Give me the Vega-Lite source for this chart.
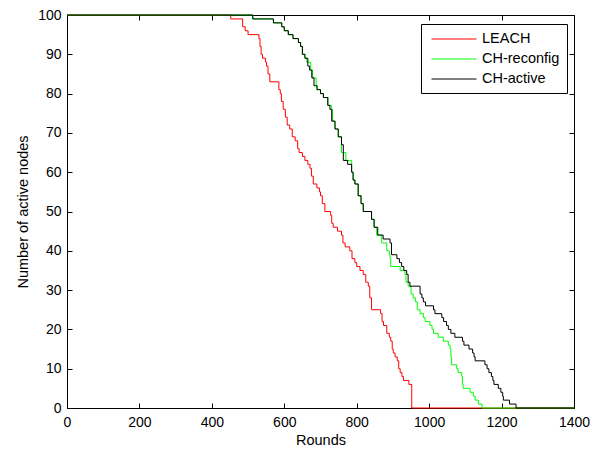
{
  "$schema": "https://vega.github.io/schema/vega-lite/v6.json",
  "width": 507,
  "height": 393,
  "autosize": "none",
  "padding": {"left": 67, "top": 15, "right": 21, "bottom": 42},
  "background": "white",
  "config": {
    "view": {"stroke": "black", "strokeWidth": 1},
    "font": "Liberation Sans",
    "axis": {
      "grid": false,
      "domainColor": "black",
      "tickColor": "black",
      "tickSize": -5,
      "labelFlush": false,
      "labelOverlap": false,
      "labelColor": "black",
      "labelFont": "Liberation Sans",
      "labelFontSize": 14,
      "titleFont": "Liberation Sans",
      "titleFontSize": 14.5,
      "titleFontWeight": "normal",
      "titleColor": "black"
    },
    "legend": {
      "labelFont": "Liberation Sans",
      "labelFontSize": 14.5,
      "labelColor": "black"
    }
  },
  "data": {
    "values": [
      {"series": "LEACH", "round": 0, "nodes": 100},
      {"series": "LEACH", "round": 452, "nodes": 99},
      {"series": "LEACH", "round": 485, "nodes": 97},
      {"series": "LEACH", "round": 492, "nodes": 96},
      {"series": "LEACH", "round": 500, "nodes": 95},
      {"series": "LEACH", "round": 530, "nodes": 94},
      {"series": "LEACH", "round": 533, "nodes": 92},
      {"series": "LEACH", "round": 536, "nodes": 90},
      {"series": "LEACH", "round": 540, "nodes": 89},
      {"series": "LEACH", "round": 548, "nodes": 88},
      {"series": "LEACH", "round": 551, "nodes": 87},
      {"series": "LEACH", "round": 555, "nodes": 85},
      {"series": "LEACH", "round": 560, "nodes": 83},
      {"series": "LEACH", "round": 585, "nodes": 81},
      {"series": "LEACH", "round": 589, "nodes": 80},
      {"series": "LEACH", "round": 592, "nodes": 78},
      {"series": "LEACH", "round": 597, "nodes": 76},
      {"series": "LEACH", "round": 603, "nodes": 74},
      {"series": "LEACH", "round": 608, "nodes": 72},
      {"series": "LEACH", "round": 615, "nodes": 71},
      {"series": "LEACH", "round": 622, "nodes": 69},
      {"series": "LEACH", "round": 630, "nodes": 68},
      {"series": "LEACH", "round": 637, "nodes": 66},
      {"series": "LEACH", "round": 641, "nodes": 65},
      {"series": "LEACH", "round": 650, "nodes": 64},
      {"series": "LEACH", "round": 657, "nodes": 63},
      {"series": "LEACH", "round": 665, "nodes": 62},
      {"series": "LEACH", "round": 671, "nodes": 61},
      {"series": "LEACH", "round": 675, "nodes": 59},
      {"series": "LEACH", "round": 680, "nodes": 57},
      {"series": "LEACH", "round": 690, "nodes": 56},
      {"series": "LEACH", "round": 697, "nodes": 55},
      {"series": "LEACH", "round": 700, "nodes": 54},
      {"series": "LEACH", "round": 705, "nodes": 52},
      {"series": "LEACH", "round": 712, "nodes": 50},
      {"series": "LEACH", "round": 728, "nodes": 49},
      {"series": "LEACH", "round": 731, "nodes": 47},
      {"series": "LEACH", "round": 735, "nodes": 46},
      {"series": "LEACH", "round": 747, "nodes": 45},
      {"series": "LEACH", "round": 758, "nodes": 44},
      {"series": "LEACH", "round": 762, "nodes": 42},
      {"series": "LEACH", "round": 768, "nodes": 41},
      {"series": "LEACH", "round": 781, "nodes": 40},
      {"series": "LEACH", "round": 787, "nodes": 38},
      {"series": "LEACH", "round": 795, "nodes": 37},
      {"series": "LEACH", "round": 800, "nodes": 36},
      {"series": "LEACH", "round": 809, "nodes": 35},
      {"series": "LEACH", "round": 818, "nodes": 34},
      {"series": "LEACH", "round": 825, "nodes": 32},
      {"series": "LEACH", "round": 832, "nodes": 31},
      {"series": "LEACH", "round": 836, "nodes": 28},
      {"series": "LEACH", "round": 841, "nodes": 25},
      {"series": "LEACH", "round": 866, "nodes": 24},
      {"series": "LEACH", "round": 870, "nodes": 22},
      {"series": "LEACH", "round": 874, "nodes": 21},
      {"series": "LEACH", "round": 883, "nodes": 19},
      {"series": "LEACH", "round": 890, "nodes": 18},
      {"series": "LEACH", "round": 894, "nodes": 17},
      {"series": "LEACH", "round": 898, "nodes": 15},
      {"series": "LEACH", "round": 901, "nodes": 14},
      {"series": "LEACH", "round": 906, "nodes": 13},
      {"series": "LEACH", "round": 912, "nodes": 12},
      {"series": "LEACH", "round": 916, "nodes": 10},
      {"series": "LEACH", "round": 920, "nodes": 9},
      {"series": "LEACH", "round": 925, "nodes": 8},
      {"series": "LEACH", "round": 929, "nodes": 7},
      {"series": "LEACH", "round": 944, "nodes": 6},
      {"series": "LEACH", "round": 952, "nodes": 0},
      {"series": "LEACH", "round": 1400, "nodes": 0},
      {"series": "CH-reconfig", "round": 0, "nodes": 100},
      {"series": "CH-reconfig", "round": 513, "nodes": 99},
      {"series": "CH-reconfig", "round": 570, "nodes": 98},
      {"series": "CH-reconfig", "round": 593, "nodes": 97},
      {"series": "CH-reconfig", "round": 600, "nodes": 96},
      {"series": "CH-reconfig", "round": 611, "nodes": 95},
      {"series": "CH-reconfig", "round": 624, "nodes": 94},
      {"series": "CH-reconfig", "round": 639, "nodes": 93},
      {"series": "CH-reconfig", "round": 645, "nodes": 92},
      {"series": "CH-reconfig", "round": 650, "nodes": 90},
      {"series": "CH-reconfig", "round": 657, "nodes": 89},
      {"series": "CH-reconfig", "round": 662, "nodes": 88},
      {"series": "CH-reconfig", "round": 673, "nodes": 86},
      {"series": "CH-reconfig", "round": 678, "nodes": 84},
      {"series": "CH-reconfig", "round": 688, "nodes": 82},
      {"series": "CH-reconfig", "round": 692, "nodes": 81},
      {"series": "CH-reconfig", "round": 700, "nodes": 80},
      {"series": "CH-reconfig", "round": 708, "nodes": 79},
      {"series": "CH-reconfig", "round": 721, "nodes": 77},
      {"series": "CH-reconfig", "round": 730, "nodes": 76},
      {"series": "CH-reconfig", "round": 733, "nodes": 73},
      {"series": "CH-reconfig", "round": 740, "nodes": 71},
      {"series": "CH-reconfig", "round": 749, "nodes": 69},
      {"series": "CH-reconfig", "round": 758, "nodes": 65},
      {"series": "CH-reconfig", "round": 770, "nodes": 63},
      {"series": "CH-reconfig", "round": 786, "nodes": 60},
      {"series": "CH-reconfig", "round": 790, "nodes": 58},
      {"series": "CH-reconfig", "round": 795, "nodes": 57},
      {"series": "CH-reconfig", "round": 804, "nodes": 54},
      {"series": "CH-reconfig", "round": 812, "nodes": 52},
      {"series": "CH-reconfig", "round": 818, "nodes": 50},
      {"series": "CH-reconfig", "round": 841, "nodes": 48},
      {"series": "CH-reconfig", "round": 848, "nodes": 46},
      {"series": "CH-reconfig", "round": 855, "nodes": 44},
      {"series": "CH-reconfig", "round": 869, "nodes": 42},
      {"series": "CH-reconfig", "round": 883, "nodes": 40},
      {"series": "CH-reconfig", "round": 890, "nodes": 39},
      {"series": "CH-reconfig", "round": 892, "nodes": 38},
      {"series": "CH-reconfig", "round": 894, "nodes": 36},
      {"series": "CH-reconfig", "round": 920, "nodes": 35},
      {"series": "CH-reconfig", "round": 933, "nodes": 34},
      {"series": "CH-reconfig", "round": 936, "nodes": 32},
      {"series": "CH-reconfig", "round": 942, "nodes": 31},
      {"series": "CH-reconfig", "round": 950, "nodes": 29},
      {"series": "CH-reconfig", "round": 956, "nodes": 28},
      {"series": "CH-reconfig", "round": 962, "nodes": 27},
      {"series": "CH-reconfig", "round": 967, "nodes": 25},
      {"series": "CH-reconfig", "round": 975, "nodes": 24},
      {"series": "CH-reconfig", "round": 984, "nodes": 23},
      {"series": "CH-reconfig", "round": 989, "nodes": 22},
      {"series": "CH-reconfig", "round": 1002, "nodes": 21},
      {"series": "CH-reconfig", "round": 1008, "nodes": 20},
      {"series": "CH-reconfig", "round": 1012, "nodes": 19},
      {"series": "CH-reconfig", "round": 1025, "nodes": 18},
      {"series": "CH-reconfig", "round": 1039, "nodes": 17},
      {"series": "CH-reconfig", "round": 1053, "nodes": 16},
      {"series": "CH-reconfig", "round": 1058, "nodes": 15},
      {"series": "CH-reconfig", "round": 1060, "nodes": 13},
      {"series": "CH-reconfig", "round": 1062, "nodes": 11},
      {"series": "CH-reconfig", "round": 1076, "nodes": 10},
      {"series": "CH-reconfig", "round": 1080, "nodes": 9},
      {"series": "CH-reconfig", "round": 1090, "nodes": 8},
      {"series": "CH-reconfig", "round": 1092, "nodes": 6},
      {"series": "CH-reconfig", "round": 1094, "nodes": 5},
      {"series": "CH-reconfig", "round": 1113, "nodes": 4},
      {"series": "CH-reconfig", "round": 1122, "nodes": 3},
      {"series": "CH-reconfig", "round": 1127, "nodes": 2},
      {"series": "CH-reconfig", "round": 1136, "nodes": 1},
      {"series": "CH-reconfig", "round": 1146, "nodes": 0},
      {"series": "CH-reconfig", "round": 1400, "nodes": 0},
      {"series": "CH-active", "round": 0, "nodes": 100},
      {"series": "CH-active", "round": 513, "nodes": 99},
      {"series": "CH-active", "round": 570, "nodes": 98},
      {"series": "CH-active", "round": 593, "nodes": 97},
      {"series": "CH-active", "round": 600, "nodes": 96},
      {"series": "CH-active", "round": 611, "nodes": 95},
      {"series": "CH-active", "round": 624, "nodes": 94},
      {"series": "CH-active", "round": 639, "nodes": 93},
      {"series": "CH-active", "round": 645, "nodes": 92},
      {"series": "CH-active", "round": 650, "nodes": 90},
      {"series": "CH-active", "round": 657, "nodes": 89},
      {"series": "CH-active", "round": 665, "nodes": 87},
      {"series": "CH-active", "round": 670, "nodes": 86},
      {"series": "CH-active", "round": 676, "nodes": 84},
      {"series": "CH-active", "round": 682, "nodes": 82},
      {"series": "CH-active", "round": 690, "nodes": 81},
      {"series": "CH-active", "round": 700, "nodes": 80},
      {"series": "CH-active", "round": 708, "nodes": 79},
      {"series": "CH-active", "round": 720, "nodes": 77},
      {"series": "CH-active", "round": 726, "nodes": 76},
      {"series": "CH-active", "round": 731, "nodes": 73},
      {"series": "CH-active", "round": 740, "nodes": 71},
      {"series": "CH-active", "round": 749, "nodes": 69},
      {"series": "CH-active", "round": 758, "nodes": 67},
      {"series": "CH-active", "round": 763, "nodes": 63},
      {"series": "CH-active", "round": 775, "nodes": 62},
      {"series": "CH-active", "round": 786, "nodes": 60},
      {"series": "CH-active", "round": 790, "nodes": 58},
      {"series": "CH-active", "round": 795, "nodes": 57},
      {"series": "CH-active", "round": 804, "nodes": 54},
      {"series": "CH-active", "round": 812, "nodes": 52},
      {"series": "CH-active", "round": 818, "nodes": 50},
      {"series": "CH-active", "round": 841, "nodes": 48},
      {"series": "CH-active", "round": 848, "nodes": 46},
      {"series": "CH-active", "round": 858, "nodes": 44},
      {"series": "CH-active", "round": 873, "nodes": 43},
      {"series": "CH-active", "round": 892, "nodes": 42},
      {"series": "CH-active", "round": 896, "nodes": 39},
      {"series": "CH-active", "round": 911, "nodes": 38},
      {"series": "CH-active", "round": 918, "nodes": 37},
      {"series": "CH-active", "round": 924, "nodes": 36},
      {"series": "CH-active", "round": 930, "nodes": 35},
      {"series": "CH-active", "round": 938, "nodes": 34},
      {"series": "CH-active", "round": 942, "nodes": 32},
      {"series": "CH-active", "round": 947, "nodes": 31},
      {"series": "CH-active", "round": 975, "nodes": 29},
      {"series": "CH-active", "round": 980, "nodes": 28},
      {"series": "CH-active", "round": 984, "nodes": 27},
      {"series": "CH-active", "round": 990, "nodes": 26},
      {"series": "CH-active", "round": 1012, "nodes": 25},
      {"series": "CH-active", "round": 1016, "nodes": 24},
      {"series": "CH-active", "round": 1035, "nodes": 23},
      {"series": "CH-active", "round": 1040, "nodes": 22},
      {"series": "CH-active", "round": 1048, "nodes": 21},
      {"series": "CH-active", "round": 1053, "nodes": 20},
      {"series": "CH-active", "round": 1060, "nodes": 19},
      {"series": "CH-active", "round": 1071, "nodes": 18},
      {"series": "CH-active", "round": 1092, "nodes": 17},
      {"series": "CH-active", "round": 1096, "nodes": 16},
      {"series": "CH-active", "round": 1110, "nodes": 15},
      {"series": "CH-active", "round": 1120, "nodes": 14},
      {"series": "CH-active", "round": 1124, "nodes": 13},
      {"series": "CH-active", "round": 1127, "nodes": 12},
      {"series": "CH-active", "round": 1154, "nodes": 11},
      {"series": "CH-active", "round": 1160, "nodes": 10},
      {"series": "CH-active", "round": 1165, "nodes": 9},
      {"series": "CH-active", "round": 1172, "nodes": 8},
      {"series": "CH-active", "round": 1176, "nodes": 7},
      {"series": "CH-active", "round": 1179, "nodes": 6},
      {"series": "CH-active", "round": 1191, "nodes": 5},
      {"series": "CH-active", "round": 1198, "nodes": 4},
      {"series": "CH-active", "round": 1203, "nodes": 3},
      {"series": "CH-active", "round": 1205, "nodes": 2},
      {"series": "CH-active", "round": 1222, "nodes": 1},
      {"series": "CH-active", "round": 1240, "nodes": 0},
      {"series": "CH-active", "round": 1400, "nodes": 0}
    ]
  },
  "resolve": {"axis": {"x": "independent", "y": "independent"}},
  "layer": [
    {
      "transform": [{"filter": "datum.series == 'LEACH'"}],
      "mark": {"type": "line", "interpolate": "step-after", "strokeWidth": 1},
      "encoding": {
        "x": {
          "field": "round", "type": "quantitative",
          "scale": {"domain": [0, 1400], "nice": false},
          "axis": {"values": [0, 200, 400, 600, 800, 1000, 1200, 1400], "format": "d", "title": "Rounds", "labelPadding": 12, "titlePadding": 4}
        },
        "y": {
          "field": "nodes", "type": "quantitative",
          "scale": {"domain": [0, 100], "nice": false},
          "axis": {"values": [0, 10, 20, 30, 40, 50, 60, 70, 80, 90, 100], "format": "d", "title": "Number of active nodes", "labelPadding": 11, "titlePadding": 7}
        },
        "color": {
          "field": "series", "type": "nominal",
          "scale": {"domain": ["LEACH", "CH-reconfig", "CH-active"], "range": ["#ff0000", "#00ff00", "#000000"]},
          "legend": {
            "title": null, "orient": "none", "legendX": 354, "legendY": 9,
            "symbolType": "M-3,0H3", "symbolSize": 225, "symbolStrokeWidth": 1,
            "symbolOffset": 18, "labelOffset": 20, "rowPadding": 5,
            "strokeColor": "black", "fillColor": "white", "padding": 7
          }
        }
      }
    },
    {
      "transform": [{"filter": "datum.series == 'CH-reconfig'"}],
      "mark": {"type": "line", "interpolate": "step-after", "strokeWidth": 1},
      "encoding": {
        "x": {"field": "round", "type": "quantitative", "axis": null},
        "y": {"field": "nodes", "type": "quantitative", "axis": null},
        "color": {"field": "series", "type": "nominal"}
      }
    },
    {
      "transform": [{"filter": "datum.series == 'CH-active'"}],
      "mark": {"type": "line", "interpolate": "step-after", "strokeWidth": 1},
      "encoding": {
        "x": {
          "field": "round", "type": "quantitative",
          "axis": {"orient": "top", "values": [0, 200, 400, 600, 800, 1000, 1200, 1400], "labels": false, "title": null}
        },
        "y": {
          "field": "nodes", "type": "quantitative",
          "axis": {"orient": "right", "values": [0, 10, 20, 30, 40, 50, 60, 70, 80, 90, 100], "labels": false, "title": null}
        },
        "color": {"field": "series", "type": "nominal"}
      }
    }
  ]
}
